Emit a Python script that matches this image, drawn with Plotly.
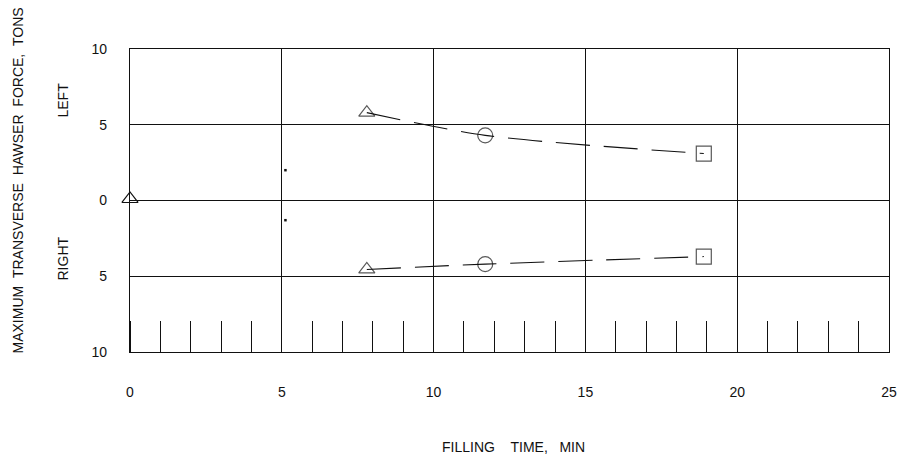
import plotly.graph_objects as go

# Data
left_time = [7.8, 11.7, 18.9]
left_force = [5.8, 4.3, 3.1]
left_symbols = ["triangle-up-open", "circle-open", "square-open"]

right_time = [7.8, 11.7, 18.9]
right_force = [-4.55, -4.2, -3.7]
right_symbols = ["triangle-up-open", "circle-open", "square-open"]

origin_time = [0.0]
origin_force = [0.1]

dot_time = [5.12, 5.12]
dot_force = [2.0, -1.3]

x_ticks = [0, 5, 10, 15, 20, 25]
x_ticktext = ["0", "5", "10", "15", "20", "25"]
y_ticks = [-10, -5, 0, 5, 10]
y_ticktext = ["10", "5", "0", "5", "10"]

FONT = "Liberation Sans, Arial, sans-serif"
INK = "#111111"
NB = "\u00a0"

fig = go.Figure()

for xs, ys, syms in [(left_time, left_force, left_symbols),
                     (right_time, right_force, right_symbols)]:
    fig.add_trace(go.Scatter(
        x=xs, y=ys, mode="lines",
        line=dict(color=INK, width=1.1, dash="34px,14px", shape="spline", smoothing=0.8),
        hoverinfo="skip", showlegend=False))
    fig.add_trace(go.Scatter(
        x=xs, y=ys, mode="markers",
        marker=dict(symbol=syms, size=[14, 15, 15], color=INK,
                    line=dict(color=INK, width=1.2)),
        showlegend=False, cliponaxis=False))

fig.add_trace(go.Scatter(
    x=origin_time, y=origin_force, mode="markers",
    marker=dict(symbol="triangle-up-open", size=14, color=INK,
                line=dict(color=INK, width=1.2)),
    showlegend=False, cliponaxis=False))

fig.add_trace(go.Scatter(
    x=dot_time, y=dot_force, mode="markers",
    marker=dict(symbol="square", size=2.5, color=INK, line=dict(width=0)),
    showlegend=False))

fig.update_layout(
    width=903, height=459,
    margin=dict(l=130, r=14, t=49, b=107, autoexpand=False),
    paper_bgcolor="white", plot_bgcolor="white",
    font=dict(family=FONT, size=14, color=INK),
    showlegend=False,
)

fig.update_xaxes(
    range=[0, 25], tickvals=x_ticks, ticktext=x_ticktext,
    automargin=False, ticklabeloverflow="allow",
    showline=True, linecolor=INK, linewidth=1.2, mirror=True,
    showgrid=True, gridcolor=INK, gridwidth=1.2,
    zeroline=False,
    ticks="outside", ticklen=27, tickcolor="rgba(0,0,0,0)",
    tickfont=dict(family=FONT, size=14, color=INK),
    minor=dict(dtick=1, tick0=0, ticks="inside", ticklen=31,
               tickcolor=INK, tickwidth=1.1, showgrid=False),
)
fig.update_yaxes(
    range=[-10, 10], tickvals=y_ticks, ticktext=y_ticktext,
    automargin=False, ticklabeloverflow="allow",
    showline=True, linecolor=INK, linewidth=1.2, mirror=True,
    showgrid=True, gridcolor=INK, gridwidth=1.2,
    zeroline=False,
    ticks="outside", ticklen=19, tickcolor="rgba(0,0,0,0)",
    tickfont=dict(family=FONT, size=14, color=INK),
)

fig.add_annotation(text=f"FILLING{NB}{NB}{NB}{NB}TIME,{NB}{NB}{NB}MIN", xref="paper", yref="paper",
                   x=0.5, xshift=4, y=0, yshift=-95, xanchor="center", yanchor="middle",
                   showarrow=False, font=dict(family=FONT, size=14, color=INK))
fig.add_annotation(text=f"MAXIMUM{NB}{NB}TRANSVERSE{NB}{NB}HAWSER{NB}{NB}FORCE,{NB}{NB}TONS",
                   xref="paper", yref="paper",
                   x=0, xshift=-113, y=0.5, yshift=20, xanchor="center", yanchor="middle",
                   textangle=-90, showarrow=False,
                   font=dict(family=FONT, size=14, color=INK))
fig.add_annotation(text="LEFT", xref="paper", yref="paper",
                   x=0, xshift=-68, y=0.5, yshift=100, xanchor="center", yanchor="middle",
                   textangle=-90, showarrow=False,
                   font=dict(family=FONT, size=14, color=INK))
fig.add_annotation(text="RIGHT", xref="paper", yref="paper",
                   x=0, xshift=-68, y=0.5, yshift=-58, xanchor="center", yanchor="middle",
                   textangle=-90, showarrow=False,
                   font=dict(family=FONT, size=14, color=INK))

fig.write_html("out.html",
               config={"displayModeBar": False},
               post_script="document.body.style.margin='0';document.body.style.overflow='hidden';")
